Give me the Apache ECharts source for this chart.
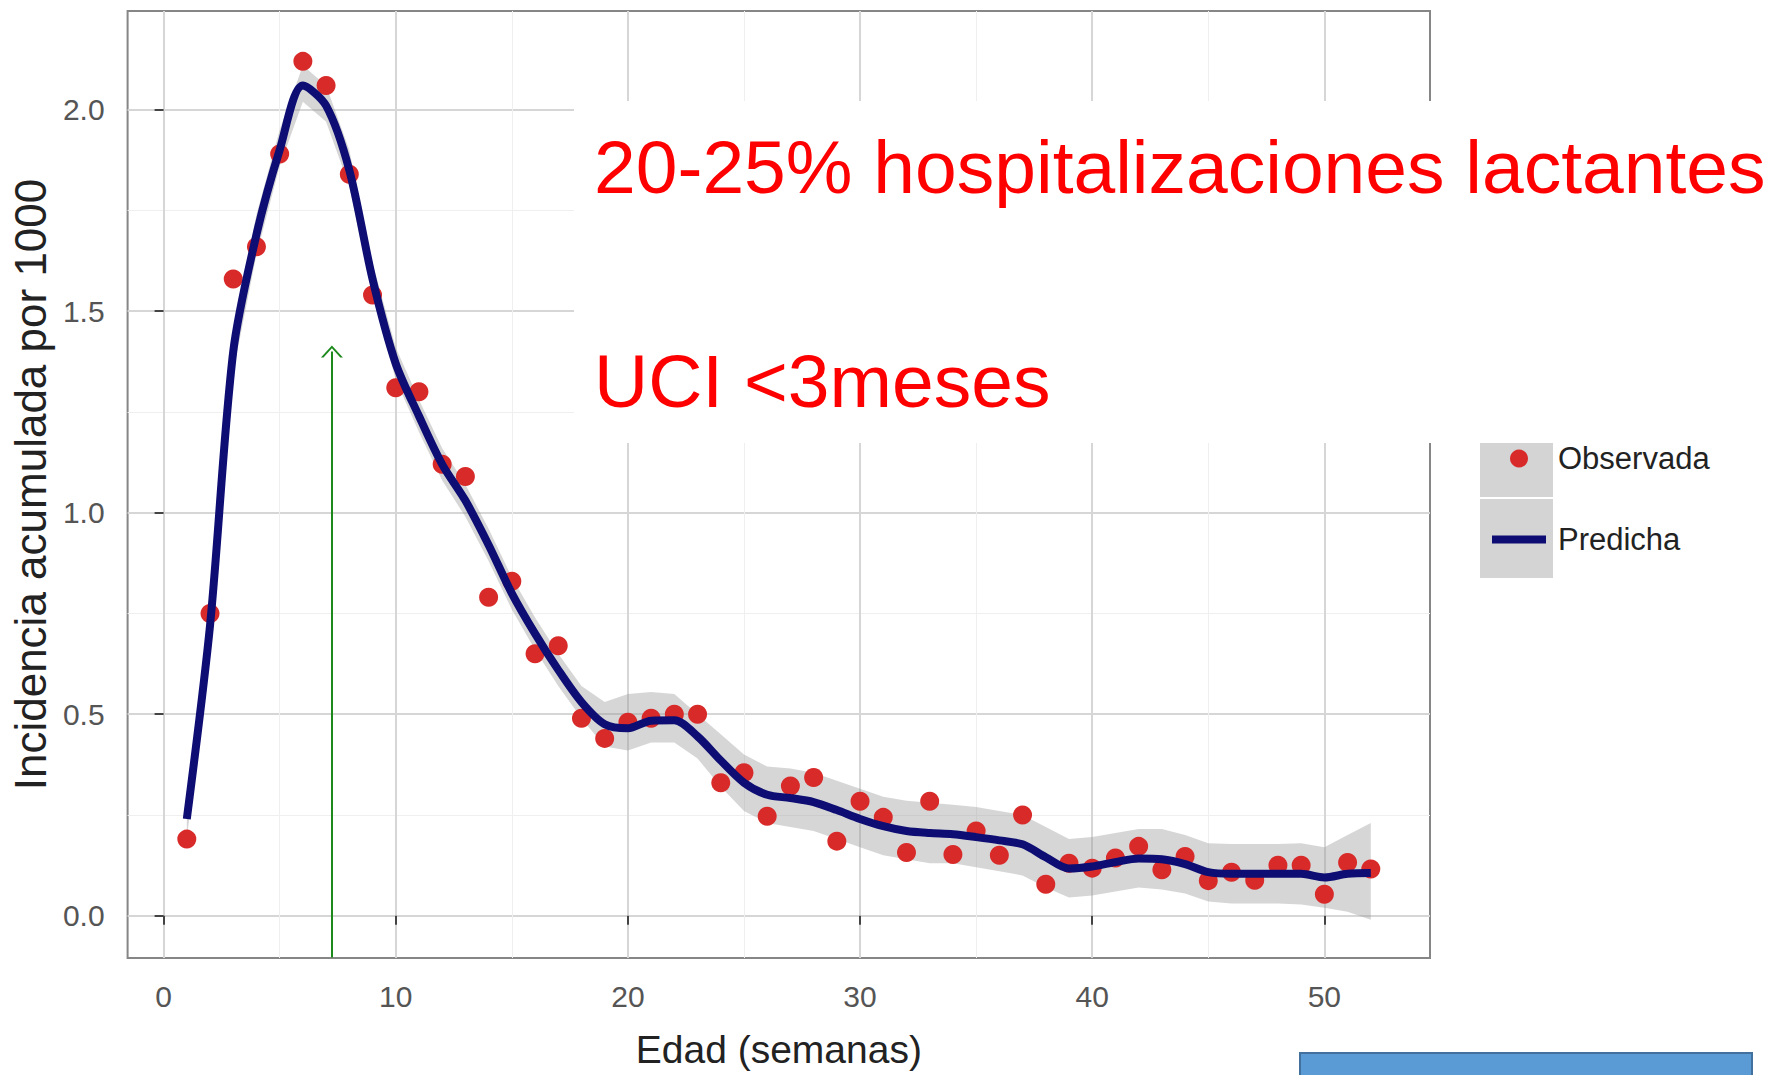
<!DOCTYPE html>
<html>
<head>
<meta charset="utf-8">
<style>
  html, body { margin: 0; padding: 0; background: #ffffff; }
  #chart { width: 1768px; height: 1075px; }
</style>
<script src="https://cdn.jsdelivr.net/npm/echarts@6/dist/echarts.min.js"></script>
</head>
<body>
<div id="chart"></div>
<script>
'use strict';

// weeks of age (x) and the values
const weeks = [
  1, 2, 3, 4, 5, 6, 7, 8, 9, 10, 11, 12, 13, 14, 15, 16, 17, 18, 19, 20, 21, 22, 23, 24, 25, 26,
  27, 28, 29, 30, 31, 32, 33, 34, 35, 36, 37, 38, 39, 40, 41, 42, 43, 44, 45, 46, 47, 48, 49, 50, 51, 52
];
const observed = [
  0.19, 0.75, 1.58, 1.66, 1.89, 2.12, 2.06, 1.84, 1.54, 1.31, 1.30, 1.12, 1.09, 0.79, 0.83, 0.65, 0.67, 0.49, 0.44, 0.48, 0.49, 0.50, 0.50, 0.33, 0.355, 0.247,
  0.322, 0.343, 0.185, 0.284, 0.244, 0.157, 0.284, 0.152, 0.21, 0.15, 0.25, 0.078, 0.13, 0.118, 0.143, 0.172, 0.114, 0.147, 0.087, 0.108, 0.088, 0.125, 0.125, 0.053, 0.132, 0.116
];
const predicted = [
  0.24, 0.72, 1.40, 1.69, 1.90, 2.06, 2.01, 1.85, 1.58, 1.37, 1.24, 1.12, 1.03, 0.92, 0.80, 0.70, 0.61, 0.53, 0.475, 0.465, 0.484, 0.485, 0.445, 0.385, 0.33, 0.30,
  0.292, 0.282, 0.262, 0.24, 0.222, 0.21, 0.205, 0.202, 0.195, 0.187, 0.177, 0.145, 0.117, 0.122, 0.133, 0.142, 0.14, 0.128, 0.108, 0.104, 0.104, 0.104, 0.104, 0.095, 0.104, 0.106
];
const bandLower = [
  0.19, 0.67, 1.35, 1.64, 1.86, 2.02, 1.97, 1.81, 1.54, 1.33, 1.20, 1.08, 0.99, 0.88, 0.76, 0.66, 0.57, 0.49, 0.42, 0.41, 0.43, 0.43, 0.39, 0.32, 0.26, 0.23,
  0.22, 0.21, 0.19, 0.17, 0.15, 0.14, 0.13, 0.13, 0.12, 0.11, 0.10, 0.07, 0.045, 0.05, 0.06, 0.07, 0.065, 0.055, 0.035, 0.03, 0.03, 0.03, 0.028, 0.02, 0.01, -0.01
];
const bandUpper = [
  0.29, 0.77, 1.45, 1.74, 1.95, 2.11, 2.06, 1.90, 1.62, 1.41, 1.28, 1.16, 1.07, 0.96, 0.84, 0.74, 0.65, 0.57, 0.53, 0.55, 0.555, 0.55, 0.50, 0.45, 0.40, 0.37,
  0.365, 0.355, 0.335, 0.315, 0.295, 0.285, 0.28, 0.275, 0.27, 0.26, 0.25, 0.22, 0.19, 0.195, 0.205, 0.215, 0.215, 0.2, 0.18, 0.178, 0.178, 0.178, 0.18, 0.17, 0.2, 0.23
];

const xTicks = [0, 10, 20, 30, 40, 50];
const xMinorTicks = [5, 15, 25, 35, 45];
const yTicks = [0, 0.5, 1, 1.5, 2];
const yMinorTicks = [0.25, 0.75, 1.25, 1.75];

const seriesNames = ['Observada', 'Predicha'];
const annotationLines = ['20-25% hospitalizaciones lactantes', 'UCI <3meses'];
const arrowWeek = 7.25;
const arrowFrom = -0.104;
const arrowTo = 1.40;

const fontFamily = '"Liberation Sans", Arial, Helvetica, sans-serif';
const xRange = { min: -1.55, max: 54.55 };
const yRange = { min: -0.105, max: 2.245 };

const chart = echarts.init(document.getElementById('chart'), null, { renderer: 'svg' });

// ggplot-like major axis with ticks + labels at custom values
function majorAxis(values, range, extra) {
  return Object.assign({
    type: 'value',
    min: range.min,
    max: range.max,
    axisLine: { show: false },
    axisTick: { show: true, customValues: values, length: 9, lineStyle: { color: '#444', width: 2 } },
    axisLabel: { customValues: values, fontSize: 30, color: '#555', fontFamily: fontFamily },
    splitLine: { show: true, lineStyle: { color: '#d6d6d6', width: 2 } }
  }, extra);
}

// invisible axis only used to draw the minor grid lines
function minorAxis(values, range, extra) {
  return Object.assign({
    type: 'value',
    min: range.min,
    max: range.max,
    axisLine: { show: false },
    axisTick: { show: false, customValues: values },
    axisLabel: { show: false, customValues: values },
    splitLine: { show: true, lineStyle: { color: '#efefef', width: 1 } }
  }, extra);
}

const option = {
  animation: false,
  backgroundColor: '#ffffff',
  textStyle: { fontFamily: fontFamily },
  grid: {
    left: 127, right: 338, top: 11, bottom: 117,
    show: true, borderColor: '#868686', borderWidth: 2, backgroundColor: 'transparent'
  },
  xAxis: [
    majorAxis(xTicks, xRange, {
      position: 'bottom',
      name: 'Edad (semanas)',
      nameLocation: 'middle',
      nameGap: 72,
      nameTextStyle: { fontSize: 39, color: '#222', fontFamily: fontFamily },
      axisLabel: { customValues: xTicks, fontSize: 30, color: '#555', margin: 23, fontFamily: fontFamily }
    }),
    minorAxis(xMinorTicks, xRange, { position: 'bottom' })
  ],
  yAxis: [
    majorAxis(yTicks, yRange, {
      position: 'left',
      name: 'Incidencia acumulada por 1000',
      nameLocation: 'middle',
      nameGap: 70,
      nameTextStyle: { fontSize: 44, color: '#222', fontFamily: fontFamily },
      axisLabel: {
        customValues: yTicks, fontSize: 30, color: '#555', margin: 23, fontFamily: fontFamily,
        formatter: v => v.toFixed(1)
      }
    }),
    minorAxis(yMinorTicks, yRange, { position: 'left' })
  ],
  legend: {
    orient: 'vertical',
    left: 1487,
    top: 438,
    itemWidth: 54,
    itemHeight: 18,
    itemGap: 50,
    data: [
      { name: seriesNames[0], icon: 'circle' },
      { name: seriesNames[1], icon: 'path://M0,0 L54,0 L54,8 L0,8 Z' }
    ],
    textStyle: { fontSize: 31, color: '#222', fontFamily: fontFamily, padding: [0, 0, 0, 7] }
  },
  series: [
    {
      type: 'custom',
      name: 'band',
      silent: true,
      z: 1,
      xAxisIndex: 0,
      yAxisIndex: 0,
      data: [0],
      renderItem: function (params, api) {
        const points = [];
        weeks.forEach((w, i) => points.push(api.coord([w, bandUpper[i]])));
        for (let i = weeks.length - 1; i >= 0; i--) {
          points.push(api.coord([weeks[i], bandLower[i]]));
        }
        return {
          type: 'polygon',
          shape: { points: points },
          style: { fill: '#999999', opacity: 0.4 }
        };
      }
    },
    {
      type: 'scatter',
      name: seriesNames[0],
      xAxisIndex: 0,
      yAxisIndex: 0,
      z: 3,
      clip: false,
      symbolSize: 19,
      itemStyle: { color: '#d92a2a', opacity: 1 },
      data: weeks.map((w, i) => [w, observed[i]]),
      markLine: {
        silent: true,
        animation: false,
        symbol: ['none', 'path://M0,12 L11,0 L22,12 L19.4,12 L11,2.8 L2.6,12 Z'],
        symbolSize: [22, 12],
        label: { show: false },
        lineStyle: { color: '#1b8a1b', width: 2, type: 'solid', opacity: 1 },
        data: [[{ coord: [arrowWeek, arrowFrom] }, { coord: [arrowWeek, arrowTo] }]]
      }
    },
    {
      type: 'line',
      name: seriesNames[1],
      xAxisIndex: 0,
      yAxisIndex: 0,
      z: 4,
      smooth: 0.3,
      symbol: 'none',
      lineStyle: { color: '#0d0d73', width: 8 },
      itemStyle: { color: '#0d0d73' },
      data: weeks.map((w, i) => [w, predicted[i]])
    }
  ],
  graphic: [
    // grey legend key backgrounds (ribbon fill)
    { type: 'rect', z: 0, shape: { x: 1480, y: 416, width: 73, height: 81 }, style: { fill: '#d4d4d4' } },
    { type: 'rect', z: 0, shape: { x: 1480, y: 499, width: 73, height: 79 }, style: { fill: '#d4d4d4' } },
    // white annotation box laid over the plot
    { type: 'rect', z: 50, shape: { x: 574, y: 101, width: 1194, height: 342 }, style: { fill: '#ffffff' } },
    {
      type: 'text', z: 51, x: 594, y: 167,
      style: { text: annotationLines[0], fill: '#ff0000', font: '75px ' + fontFamily, verticalAlign: 'middle' }
    },
    {
      type: 'text', z: 51, x: 594, y: 381,
      style: { text: annotationLines[1], fill: '#ff0000', font: '75px ' + fontFamily, verticalAlign: 'middle' }
    },
    // blue shape cut by the bottom edge
    { type: 'rect', z: 50, shape: { x: 1300, y: 1053, width: 452, height: 40 }, style: { fill: '#5b9bd5', stroke: '#41719c', lineWidth: 2 } }
  ]
};

chart.setOption(option);
</script>
</body>
</html>
